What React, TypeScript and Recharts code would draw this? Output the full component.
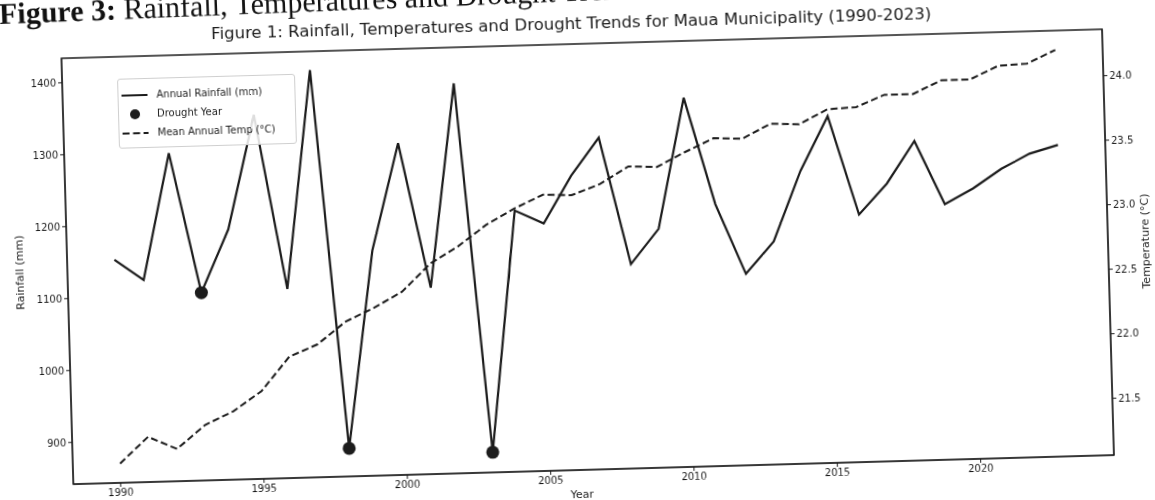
import React from "react";
import { ComposedChart, Line, Scatter, XAxis, YAxis, Legend, ReferenceArea } from "recharts";

// values
const years = [
  1990, 1991, 1992, 1993, 1994, 1995, 1996, 1997, 1998, 1999, 2000, 2001,
  2002, 2003, 2004, 2005, 2006, 2007, 2008, 2009, 2010, 2011, 2012, 2013,
  2014, 2015, 2016, 2017, 2018, 2019, 2020, 2021, 2022, 2023,
];
const rainfall = [
  1152, 1123, 1298, 1103, 1190, 1348, 1105, 1408, 881, 1155, 1303, 1101,
  1384, 870, 1205, 1186, 1251, 1303, 1126, 1174, 1355, 1206, 1108, 1152,
  1249, 1324, 1186, 1228, 1286, 1197, 1218, 1244, 1264, 1275,
];
const temperature = [
  21.21, 21.41, 21.31, 21.49, 21.59, 21.74, 22.0, 22.09, 22.26, 22.36, 22.48,
  22.69, 22.82, 22.98, 23.1, 23.2, 23.19, 23.27, 23.4, 23.39, 23.5, 23.6,
  23.59, 23.7, 23.69, 23.8, 23.81, 23.9, 23.9, 24.0, 24.0, 24.1, 24.11, 24.21,
];
const droughtYears = [1993, 1998, 2003];

const xTicks = [1990, 1995, 2000, 2005, 2010, 2015, 2020];
const rainTicks = [900, 1000, 1100, 1200, 1300, 1400];
const tempTicks = [21.5, 22.0, 22.5, 23.0, 23.5, 24.0];

const data = years.map((year, i) => ({ year, rain: rainfall[i], temp: temperature[i] }));
const droughtData = data.filter((d) => droughtYears.includes(d.year));

const X_DOMAIN = [1988.35, 2024.65];
const RAIN_DOMAIN = [842, 1434];
const TEMP_DOMAIN = [21.06, 24.36];

const FONT = "'DejaVu Sans', sans-serif";
const INK = "#1c1c1c";

function LegendBox() {
  const row = { display: "flex", alignItems: "center", height: 19 };
  const sample = { width: 26, height: 10, marginRight: 9, flex: "none" as const };
  return (
    <div
      style={{
        width: 178,
        height: 70,
        boxSizing: "border-box",
        padding: "6px 0 0 3px",
        border: "1px solid #cfcfcf",
        borderRadius: 3,
        background: "rgba(255,255,255,0.85)",
        fontFamily: FONT,
        fontSize: 10,
        color: INK,
      }}
    >
      <div style={row}>
        <svg style={sample}>
          <line x1={0} y1={5} x2={26} y2={5} stroke={INK} strokeWidth={2} />
        </svg>
        Annual Rainfall (mm)
      </div>
      <div style={row}>
        <svg style={sample}>
          <circle cx={13} cy={5} r={5} fill={INK} />
        </svg>
        Drought Year
      </div>
      <div style={row}>
        <svg style={sample}>
          <line x1={0} y1={5} x2={26} y2={5} stroke={INK} strokeWidth={2} strokeDasharray="7 3.5" />
        </svg>
        Mean Annual Temp (°C)
      </div>
    </div>
  );
}

export default function App() {
  const tick = { fontSize: 10, fill: INK, fontFamily: FONT };
  return (
    <div
      style={{
        position: "fixed",
        left: 0,
        top: 0,
        width: 1155,
        height: 500,
        transform: "rotate(-1.6deg)",
        transformOrigin: "577px 250px",
      }}
    >
      <div
        style={{
          position: "absolute",
          left: 6,
          top: -19,
          fontFamily: "'Liberation Serif', serif",
          fontSize: 30,
          lineHeight: "33px",
          whiteSpace: "nowrap",
          color: "#111",
          transform: "rotate(-0.7deg)",
          transformOrigin: "0 25px",
        }}
      >
        <b>Figure 3:</b> Rainfall, Temperatures and Drought Trends
      </div>
      <div
        style={{
          position: "absolute",
          left: 0,
          top: 14,
          width: 1155,
          textAlign: "center",
          fontFamily: FONT,
          fontSize: 16.5,
          lineHeight: "20px",
          color: INK,
        }}
      >
        Figure 1: Rainfall, Temperatures and Drought Trends for Maua Municipality (1990-2023)
      </div>
      <ComposedChart
        width={1155}
        height={500}
        data={data}
        margin={{ top: 44, right: 0, bottom: 0, left: 15 }}
      >
        <XAxis
          dataKey="year"
          type="number"
          domain={X_DOMAIN}
          ticks={xTicks}
          allowDataOverflow
          height={30}
          tickSize={4}
          tick={tick}
          stroke={INK}
          label={{ value: "Year", position: "insideBottom", offset: 2, dx: -12, fontSize: 11, fill: INK, fontFamily: FONT }}
        />
        <YAxis
          yAxisId="left"
          domain={RAIN_DOMAIN}
          ticks={rainTicks}
          allowDataOverflow
          width={52}
          tickSize={4}
          tick={tick}
          stroke={INK}
          label={{
            value: "Rainfall (mm)",
            angle: -90,
            position: "insideLeft",
            offset: 4,
            fontSize: 11,
            fill: INK,
            fontFamily: FONT,
            style: { textAnchor: "middle" },
          }}
        />
        <YAxis
          yAxisId="right"
          orientation="right"
          domain={TEMP_DOMAIN}
          ticks={tempTicks}
          allowDataOverflow
          width={47}
          tickSize={4}
          tick={tick}
          stroke={INK}
          tickFormatter={(v: number) => v.toFixed(1)}
          label={{
            value: "Temperature (°C)",
            angle: -90,
            position: "insideRight",
            offset: 10,
            fontSize: 11,
            fill: INK,
            fontFamily: FONT,
            style: { textAnchor: "middle" },
          }}
        />
        <ReferenceArea
          yAxisId="left"
          x1={X_DOMAIN[0]}
          x2={X_DOMAIN[1]}
          y1={RAIN_DOMAIN[0]}
          y2={RAIN_DOMAIN[1]}
          fill="none"
          stroke={INK}
          strokeWidth={1.5}
          ifOverflow="visible"
        />
        <Line
          yAxisId="left"
          dataKey="rain"
          stroke={INK}
          strokeWidth={2.2}
          dot={false}
          isAnimationActive={false}
        />
        <Line
          yAxisId="right"
          dataKey="temp"
          stroke={INK}
          strokeWidth={2}
          strokeDasharray="7 3.5"
          dot={false}
          isAnimationActive={false}
        />
        <Scatter
          yAxisId="left"
          data={droughtData}
          dataKey="rain"
          isAnimationActive={false}
          shape={(p: any) => <circle cx={p.cx} cy={p.cy} r={6.5} fill={INK} />}
        />
        <Legend
          layout="horizontal"
          verticalAlign="middle"
          align="center"
          content={() => <LegendBox />}
          wrapperStyle={{ left: 122, top: 66, width: 178, height: 70 }}
        />
      </ComposedChart>
    </div>
  );
}
